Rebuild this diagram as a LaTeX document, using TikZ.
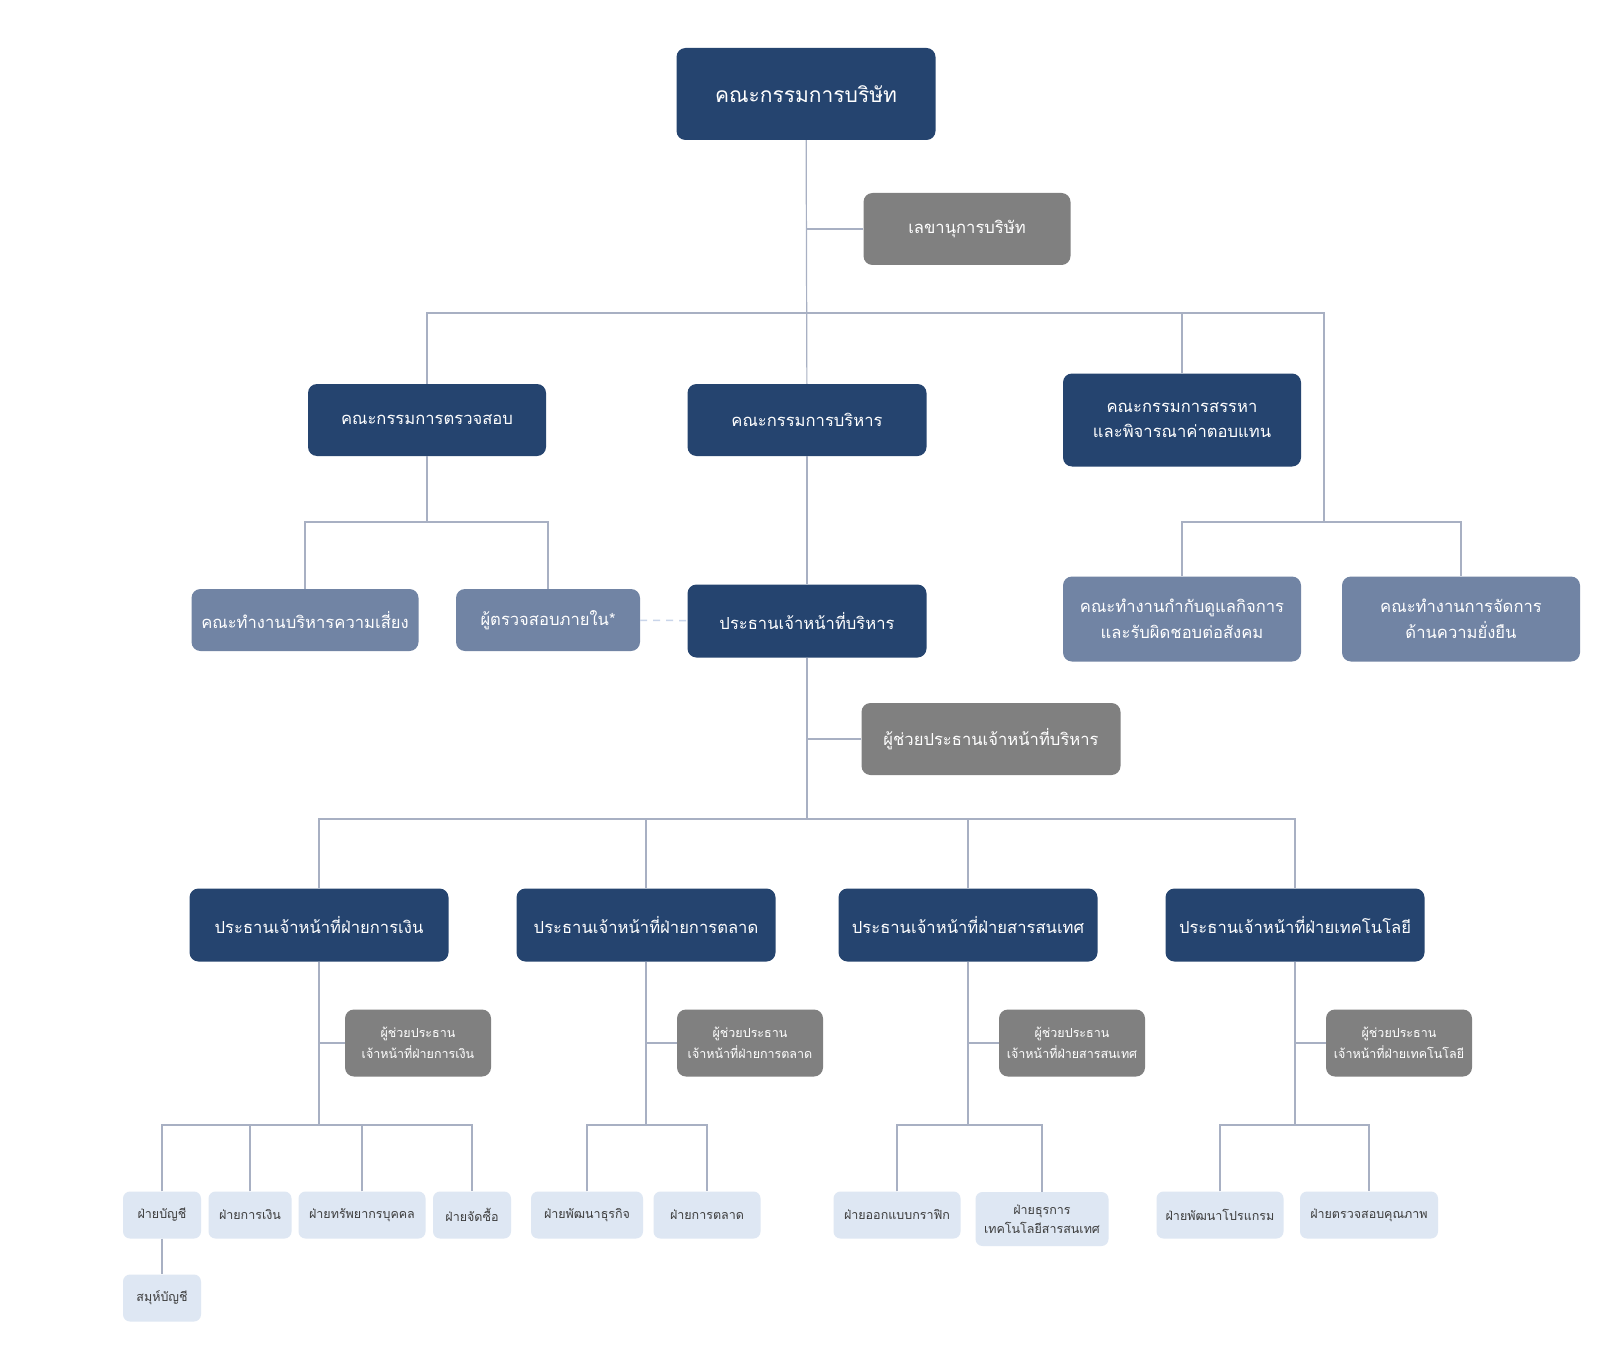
\documentclass[tikz,border=0pt]{standalone}
\usepackage{fontspec}
\setmainfont[Script=Thai]{Loma}
\usepackage{xcolor}
\usepackage{tikz}
\definecolor{navy}{HTML}{25446F}
\definecolor{boxgray}{HTML}{808080}
\definecolor{slate}{HTML}{7184A4}
\definecolor{pale}{HTML}{DEE7F3}
\definecolor{linegray}{HTML}{A8B0C3}
\definecolor{dashblue}{HTML}{C9D5EA}
\definecolor{darktext}{HTML}{3C3C3C}
\tikzset{
  chart/.style={rounded corners=9pt, align=center, inner sep=0pt},
  navybox/.style={chart, fill=navy, text=white, minimum height=72pt,
    font=\fontsize{16.6}{25.5}\selectfont},
  graybox/.style={chart, fill=boxgray, text=white, minimum height=72pt,
    font=\fontsize{16.6}{25.5}\selectfont},
  slatebox/.style={chart, fill=slate, text=white,
    font=\fontsize{16.6}{25.5}\selectfont},
  asstbox/.style={chart, fill=boxgray, text=white, minimum width=146pt,
    minimum height=67pt, font=\fontsize{12.5}{21}\selectfont},
  deptbox/.style={chart, rounded corners=7pt, fill=pale, text=darktext,
    minimum height=47pt, font=\fontsize{12.5}{18.5}\selectfont},
  link/.style={draw=linegray, line width=1.2pt},
  dashlink/.style={draw=dashblue, line width=1.5pt, dash pattern=on 7pt off 6pt}
}
\begin{document}
\begin{tikzpicture}[x=1pt,y=-1pt]
  \fill[white] (0,0) rectangle (1600,1372);

  \coordinate (topbus) at (807,313);
  \coordinate (topbusR) at (1324,313);
  \coordinate (rbus) at (1324,522);
  \coordinate (abus) at (427,522);
  \coordinate (cbus) at (807,819);
  \coordinate (deptrow) at (0,1125);

  \node[navybox, minimum width=259pt, minimum height=92pt,
    font=\fontsize{21}{26}\selectfont] (board) at (806,94) {คณะกรรมการบริษัท};
  \node[graybox, minimum width=207pt] (secretary) at (967,229) {เลขานุการบริษัท};

  \node[navybox, minimum width=238pt] (audit) at (427,420) {คณะกรรมการตรวจสอบ};
  \node[navybox, minimum width=239pt] (execcom) at (807,420) {คณะกรรมการบริหาร};
  \node[navybox, minimum width=238pt, minimum height=93pt] (nomination) at (1182,420)
    {คณะกรรมการสรรหา\\และพิจารณาค่าตอบแทน};

  \node[slatebox, minimum width=227pt, minimum height=62pt] (risk) at (305,620) {คณะทำงานบริหารความเสี่ยง};
  \node[slatebox, minimum width=184pt, minimum height=62pt] (intaudit) at (548,620) {ผู้ตรวจสอบภายใน*};
  \node[navybox, minimum width=239pt, minimum height=73pt] (ceo) at (807,621) {ประธานเจ้าหน้าที่บริหาร};
  \node[slatebox, minimum width=238pt, minimum height=85pt] (cg) at (1182,619)
    {คณะทำงานกำกับดูแลกิจการ\\และรับผิดชอบต่อสังคม};
  \node[slatebox, minimum width=238pt, minimum height=85pt] (sustain) at (1461,619)
    {คณะทำงานการจัดการ\\ด้านความยั่งยืน};

  \node[graybox, minimum width=259pt] (asstceo) at (991,739) {ผู้ช่วยประธานเจ้าหน้าที่บริหาร};

  \node[navybox, minimum width=259pt, minimum height=73pt] (cfo) at (319,925) {ประธานเจ้าหน้าที่ฝ่ายการเงิน};
  \node[navybox, minimum width=259pt, minimum height=73pt] (cmo) at (646,925) {ประธานเจ้าหน้าที่ฝ่ายการตลาด};
  \node[navybox, minimum width=259pt, minimum height=73pt] (cio) at (968,925) {ประธานเจ้าหน้าที่ฝ่ายสารสนเทศ};
  \node[navybox, minimum width=259pt, minimum height=73pt] (cto) at (1295,925) {ประธานเจ้าหน้าที่ฝ่ายเทคโนโลยี};

  \node[asstbox] (asstcfo) at (418,1043) {ผู้ช่วยประธาน\\เจ้าหน้าที่ฝ่ายการเงิน};
  \node[asstbox] (asstcmo) at (750,1043) {ผู้ช่วยประธาน\\เจ้าหน้าที่ฝ่ายการตลาด};
  \node[asstbox] (asstcio) at (1072,1043) {ผู้ช่วยประธาน\\เจ้าหน้าที่ฝ่ายสารสนเทศ};
  \node[asstbox] (asstcto) at (1399,1043) {ผู้ช่วยประธาน\\เจ้าหน้าที่ฝ่ายเทคโนโลยี};

  \node[deptbox, minimum width=78pt] (acct) at (162,1215) {ฝ่ายบัญชี};
  \node[deptbox, minimum width=83pt] (fin) at (250,1215) {ฝ่ายการเงิน};
  \node[deptbox, minimum width=127pt] (hr) at (362,1215) {ฝ่ายทรัพยากรบุคคล};
  \node[deptbox, minimum width=78pt] (proc) at (472,1215) {ฝ่ายจัดซื้อ};
  \node[deptbox, minimum width=78pt] (ledger) at (162,1298) {สมุห์บัญชี};
  \node[deptbox, minimum width=112pt] (bizdev) at (587,1215) {ฝ่ายพัฒนาธุรกิจ};
  \node[deptbox, minimum width=107pt] (mkt) at (707,1215) {ฝ่ายการตลาด};
  \node[deptbox, minimum width=127pt] (graphic) at (897,1215) {ฝ่ายออกแบบกราฟิก};
  \node[deptbox, minimum width=133pt, minimum height=54pt] (itadmin) at (1042,1219)
    {ฝ่ายธุรการ\\เทคโนโลยีสารสนเทศ};
  \node[deptbox, minimum width=127pt] (progdev) at (1220,1215) {ฝ่ายพัฒนาโปรแกรม};
  \node[deptbox, minimum width=138pt] (qa) at (1369,1215) {ฝ่ายตรวจสอบคุณภาพ};

  \draw[link] (board) -- (execcom);
  \draw[link] (secretary.west) -- (secretary.west -| board.south);
  \draw[link] (audit.north) |- (topbusR) -- (rbus);
  \draw[link] (nomination.north) -- (nomination.north |- topbusR);
  \draw[link] (cg.north) |- (rbus) -| (sustain.north);
  \draw[link] (audit) -- (abus);
  \draw[link] (risk.north) |- (abus) -| (intaudit.north);
  \draw[link] (execcom) -- (ceo);
  \draw[dashlink] (intaudit) -- (ceo);
  \draw[link] (ceo) -- (cbus);
  \draw[link] (asstceo.west) -- (asstceo.west -| ceo.south);
  \draw[link] (cfo.north) |- (cbus) -| (cto.north);
  \draw[link] (cmo.north) -- (cmo.north |- cbus);
  \draw[link] (cio.north) -- (cio.north |- cbus);

  \foreach \c/\a/\l/\r in {cfo/asstcfo/acct/proc, cmo/asstcmo/bizdev/mkt,
      cio/asstcio/graphic/itadmin, cto/asstcto/progdev/qa} {
    \draw[link] (\c.south) -- (\c.south |- deptrow);
    \draw[link] (\a.west) -- (\a.west -| \c.south);
    \draw[link] (\l.north) |- (\c.south |- deptrow) -| (\r.north);
  }
  \draw[link] (fin.north) -- (fin.north |- deptrow);
  \draw[link] (hr.north) -- (hr.north |- deptrow);
  \draw[link] (acct) -- (ledger);
\end{tikzpicture}
\end{document}
